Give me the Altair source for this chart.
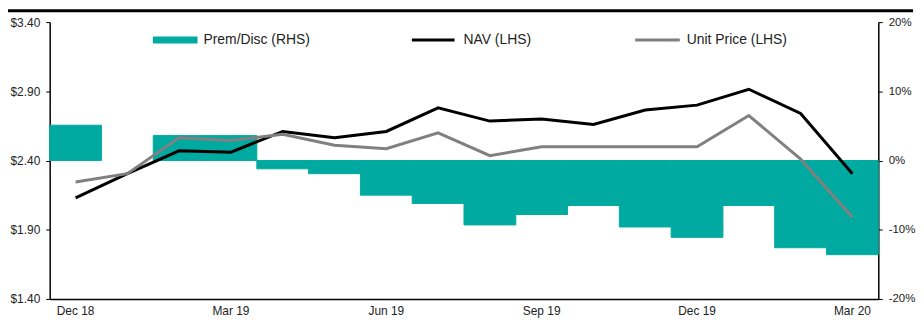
import altair as alt
import pandas as pd

months = ["Dec 18", "Jan 19", "Feb 19", "Mar 19", "Apr 19", "May 19", "Jun 19", "Jul 19",
          "Aug 19", "Sep 19", "Oct 19", "Nov 19", "Dec 19", "Jan 20", "Feb 20", "Mar 20"]
prem_disc = [5.1, 0.0, 3.6, 3.6, -1.2, -1.9, -5.0, -6.2, -9.3, -7.8, -6.5, -9.6, -11.1, -6.5, -12.6, -13.6]
nav = [2.13, 2.305, 2.47, 2.46, 2.61, 2.565, 2.61, 2.78, 2.685, 2.70, 2.66, 2.765, 2.80, 2.915, 2.74, 2.305]
unit_price = [2.245, 2.305, 2.565, 2.545, 2.59, 2.51, 2.485, 2.60, 2.435, 2.50, 2.50, 2.50, 2.50, 2.725, 2.41, 1.99]
x_labels = ["Dec 18", "Mar 19", "Jun 19", "Sep 19", "Dec 19", "Mar 20"]
left_ticks = [1.4, 1.9, 2.4, 2.9, 3.4]
right_ticks = [-20, -10, 0, 10, 20]
series_names = ["NAV (LHS)", "Unit Price (LHS)"]

TEAL = "#00AAA0"
GREY = "#808080"
FONT = "Liberation Sans"

bars_df = pd.DataFrame({"month": months, "prem": prem_disc})
lines_df = pd.DataFrame({
    "month": months * 2,
    "series": [series_names[0]] * len(months) + [series_names[1]] * len(months),
    "value": nav + unit_price,
})
one = pd.DataFrame({"a": [0]})

x_enc = alt.X("month:N", sort=months, title=None,
              scale=alt.Scale(paddingInner=0, paddingOuter=0),
              axis=alt.Axis(values=x_labels, ticks=False, labelAngle=0, labelPadding=7,
                            domainColor="black", domainWidth=1.5))

bars = alt.Chart(bars_df).mark_bar(color=TEAL, stroke=TEAL, strokeWidth=1).encode(
    x=x_enc,
    y=alt.Y("prem:Q", title=None,
            scale=alt.Scale(domain=[-20, 20], nice=False, zero=False),
            axis=alt.Axis(orient="right", values=right_ticks, labelExpr="datum.value + '%'",
                          grid=False, tickSize=4, labelPadding=6, labelFontSize=11.5,
                          domainColor="black", domainWidth=1.5, tickColor="black")),
    strokeOpacity=alt.condition("datum.prem == 0", alt.value(0), alt.value(1)),
)

lines = alt.Chart(lines_df).mark_line(strokeWidth=3).encode(
    x=alt.X("month:N", sort=months),
    y=alt.Y("value:Q", title=None,
            scale=alt.Scale(domain=[1.4, 3.4], nice=False, zero=False),
            axis=alt.Axis(orient="left", values=left_ticks, format="$.2f", grid=False,
                          tickSize=4, labelPadding=6, domainColor="black", domainWidth=1.5,
                          tickColor="black")),
    color=alt.Color("series:N", scale=alt.Scale(domain=series_names, range=["#000000", GREY]),
                    legend=None),
)

top_rule = alt.Chart(one).mark_rule(color="black", strokeWidth=3).encode(
    x=alt.value(-44), x2=alt.value(870), y=alt.value(-11.5))

sw1 = alt.Chart(one).mark_rule(color=TEAL, strokeWidth=7, strokeCap="butt").encode(
    x=alt.value(104), x2=alt.value(149), y=alt.value(18))
sw2 = alt.Chart(one).mark_rule(color="black", strokeWidth=3).encode(
    x=alt.value(365), x2=alt.value(408), y=alt.value(18))
sw3 = alt.Chart(one).mark_rule(color=GREY, strokeWidth=3).encode(
    x=alt.value(590), x2=alt.value(635), y=alt.value(18))

def label(txt, xpos):
    return alt.Chart(one).mark_text(align="left", baseline="middle", font=FONT,
                                    fontSize=14, color="#222222").encode(
        x=alt.value(xpos), y=alt.value(18.5), text=alt.value(txt))

chart = alt.layer(
    bars, lines, top_rule, sw1, sw2, sw3,
    label("Prem/Disc (RHS)", 155), label("NAV (LHS)", 417), label("Unit Price (LHS)", 642),
).resolve_scale(y="independent").properties(
    width=835, height=279,
    autosize=alt.AutoSizeParams(type="none"),
    padding={"left": 42, "top": 13, "right": 38, "bottom": 20},
).configure_view(strokeWidth=0).configure_axis(
    labelFont=FONT, labelFontSize=12, labelColor="#222222",
)

chart.save("out.html", embed_options={"renderer": "svg", "actions": False})
